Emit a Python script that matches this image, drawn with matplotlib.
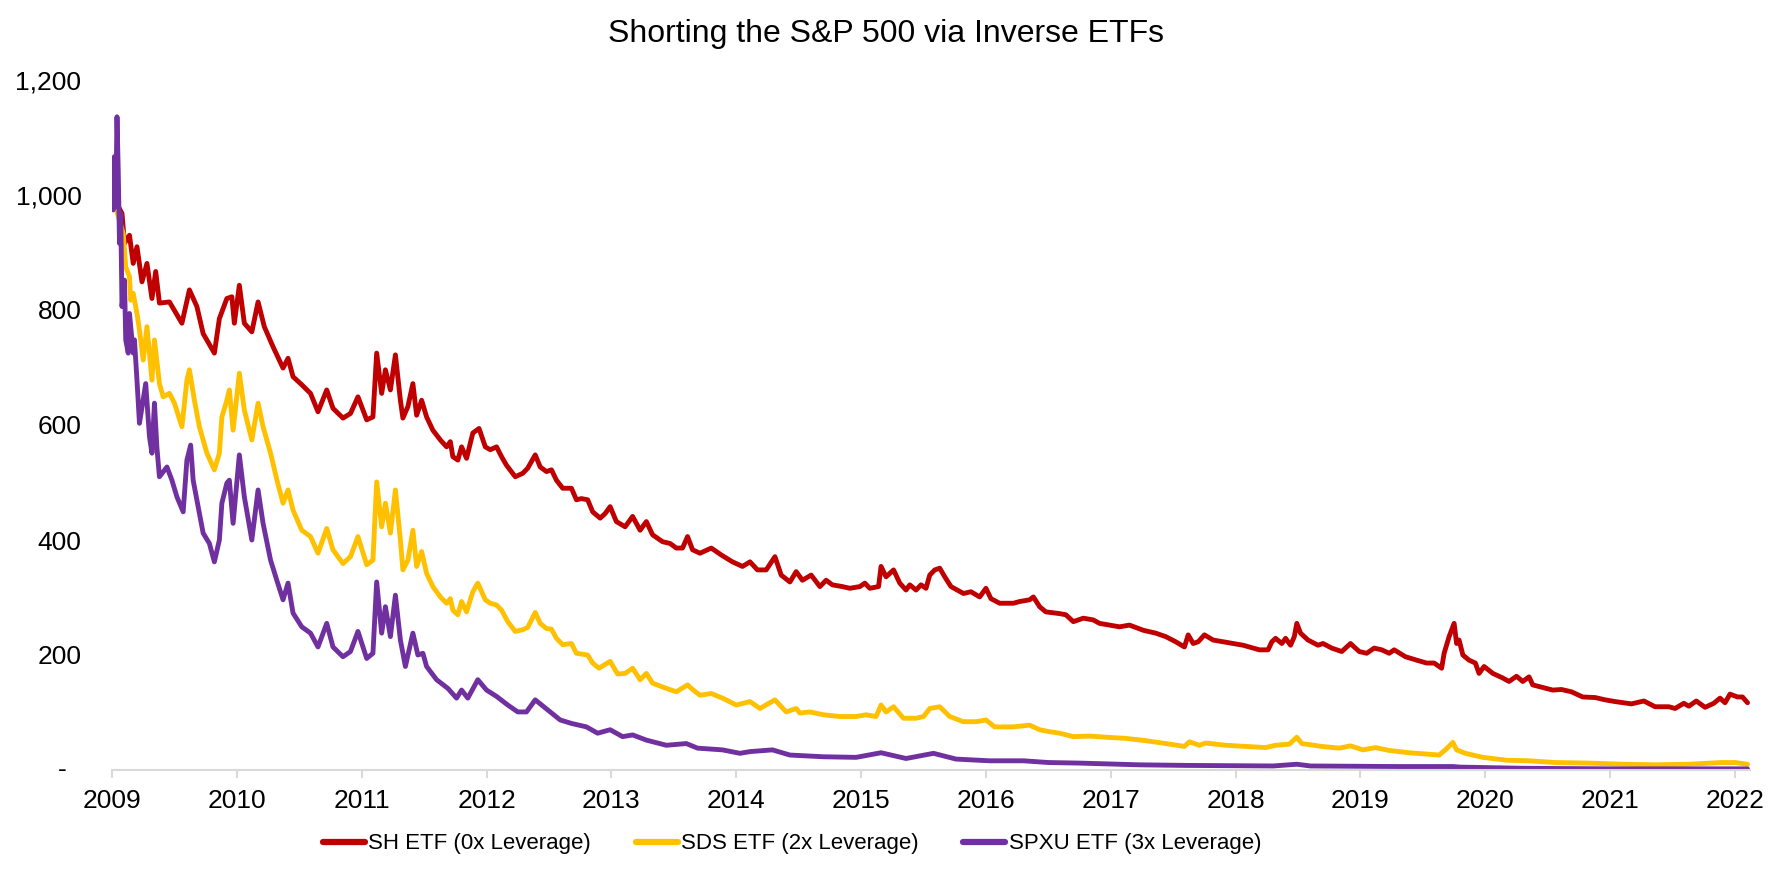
import matplotlib
matplotlib.use("Agg")
import matplotlib.pyplot as plt
from matplotlib.ticker import FuncFormatter, FixedLocator

plt.rcParams['font.family'] = ['Liberation Sans', 'DejaVu Sans']

# ---------------- data (dates as decimal years) ----------------
sh_dates = [2009.00, 2009.08, 2009.10, 2009.14, 2009.17, 2009.20, 2009.24, 2009.28, 2009.32, 2009.35,
            2009.38, 2009.46, 2009.56, 2009.62, 2009.68, 2009.73, 2009.82, 2009.86, 2009.92, 2009.96,
            2009.98, 2010.02, 2010.06, 2010.12, 2010.17, 2010.22, 2010.29, 2010.37, 2010.41, 2010.45,
            2010.52, 2010.59, 2010.65, 2010.72, 2010.77, 2010.85, 2010.91, 2010.97, 2011.04, 2011.09,
            2011.12, 2011.16, 2011.19, 2011.23, 2011.27, 2011.31, 2011.33, 2011.37, 2011.41, 2011.44,
            2011.48, 2011.52, 2011.57, 2011.63, 2011.68, 2011.71, 2011.73, 2011.77, 2011.80, 2011.84,
            2011.89, 2011.94, 2011.99, 2012.03, 2012.08, 2012.12, 2012.16, 2012.23, 2012.29, 2012.33,
            2012.39, 2012.43, 2012.48, 2012.52, 2012.56, 2012.61, 2012.68, 2012.72, 2012.76, 2012.81,
            2012.85, 2012.91, 2012.95, 2012.99, 2013.04, 2013.11, 2013.17, 2013.23, 2013.28, 2013.33,
            2013.41, 2013.47, 2013.52, 2013.57, 2013.61, 2013.65, 2013.71, 2013.80, 2013.88, 2013.97,
            2014.05, 2014.11, 2014.17, 2014.24, 2014.31, 2014.36, 2014.43, 2014.48, 2014.53, 2014.60,
            2014.67, 2014.72, 2014.77, 2014.85, 2014.91, 2014.99, 2015.03, 2015.07, 2015.14, 2015.16,
            2015.20, 2015.26, 2015.31, 2015.36, 2015.39, 2015.44, 2015.48, 2015.52, 2015.55, 2015.59,
            2015.63, 2015.67, 2015.72, 2015.82, 2015.88, 2015.95, 2016.00, 2016.04, 2016.11, 2016.22,
            2016.27, 2016.35, 2016.38, 2016.43, 2016.48, 2016.59, 2016.64, 2016.70, 2016.78, 2016.86,
            2016.91, 2016.99, 2017.07, 2017.15, 2017.26, 2017.36, 2017.44, 2017.52, 2017.59, 2017.62,
            2017.66, 2017.70, 2017.75, 2017.82, 2017.90, 2017.98, 2018.06, 2018.11, 2018.19, 2018.26,
            2018.29, 2018.32, 2018.37, 2018.40, 2018.44, 2018.47, 2018.49, 2018.52, 2018.58, 2018.66,
            2018.70, 2018.77, 2018.85, 2018.92, 2018.99, 2019.05, 2019.11, 2019.17, 2019.23, 2019.27,
            2019.36, 2019.45, 2019.53, 2019.59, 2019.65, 2019.67, 2019.71, 2019.75, 2019.77, 2019.79,
            2019.82, 2019.87, 2019.92, 2019.95, 2019.99, 2020.06, 2020.14, 2020.19, 2020.25, 2020.30,
            2020.35, 2020.38, 2020.45, 2020.54, 2020.61, 2020.69, 2020.78, 2020.88, 2020.96, 2021.04,
            2021.17, 2021.27, 2021.36, 2021.47, 2021.52, 2021.59, 2021.63, 2021.69, 2021.76, 2021.83,
            2021.88, 2021.92, 2021.96, 2022.02, 2022.06, 2022.10]
sh_values = [1000, 968, 916, 930, 881, 910, 849, 881, 820, 867,
             812, 814, 777, 835, 806, 759, 725, 785, 820, 823,
             777, 843, 777, 762, 814, 771, 736, 699, 716, 684,
             670, 655, 623, 661, 629, 612, 620, 649, 609, 614,
             725, 655, 696, 661, 722, 643, 612, 632, 672, 617,
             643, 614, 591, 574, 562, 571, 545, 539, 562, 542,
             586, 594, 562, 557, 562, 545, 530, 510, 516, 525,
             548, 527, 519, 522, 504, 490, 490, 470, 472, 470,
             449, 438, 446, 458, 432, 423, 441, 417, 432, 409,
             397, 394, 386, 386, 406, 383, 377, 386, 374, 362,
             354, 362, 348, 348, 371, 339, 327, 345, 330, 339,
             319, 330, 322, 319, 316, 319, 325, 316, 319, 354,
             336, 348, 325, 313, 322, 313, 322, 316, 339, 348,
             351, 336, 319, 307, 310, 301, 316, 298, 290, 290,
             293, 296, 301, 284, 275, 272, 270, 258, 264, 261,
             255, 252, 249, 252, 243, 238, 232, 223, 214, 235,
             220, 223, 235, 226, 223, 220, 217, 214, 209, 209,
             223, 229, 220, 229, 217, 232, 255, 238, 226, 217,
             220, 212, 206, 220, 206, 203, 212, 209, 203, 209,
             197, 191, 186, 186, 177, 203, 232, 255, 220, 226,
             200, 191, 186, 168, 180, 168, 160, 154, 163, 154,
             162, 148, 144, 139, 140, 136, 127, 126, 122, 119,
             115, 120, 110, 110, 107, 116, 111, 120, 109, 116,
             125, 117, 132, 127, 127, 117]

sds_dates = [2009.00, 2009.09, 2009.11, 2009.14, 2009.15, 2009.17, 2009.20, 2009.22, 2009.25, 2009.28,
             2009.32, 2009.34, 2009.38, 2009.41, 2009.46, 2009.50, 2009.56, 2009.60, 2009.62, 2009.66,
             2009.70, 2009.76, 2009.82, 2009.86, 2009.88, 2009.92, 2009.94, 2009.97, 2010.02, 2010.06,
             2010.12, 2010.17, 2010.21, 2010.27, 2010.32, 2010.37, 2010.41, 2010.45, 2010.52, 2010.59,
             2010.65, 2010.72, 2010.77, 2010.85, 2010.91, 2010.97, 2011.04, 2011.09, 2011.12, 2011.16,
             2011.19, 2011.23, 2011.27, 2011.31, 2011.33, 2011.37, 2011.41, 2011.44, 2011.48, 2011.52,
             2011.57, 2011.63, 2011.68, 2011.71, 2011.73, 2011.77, 2011.80, 2011.84, 2011.89, 2011.93,
             2011.99, 2012.03, 2012.08, 2012.12, 2012.17, 2012.23, 2012.29, 2012.33, 2012.39, 2012.43,
             2012.48, 2012.52, 2012.56, 2012.61, 2012.68, 2012.72, 2012.81, 2012.85, 2012.90, 2012.99,
             2013.05, 2013.11, 2013.17, 2013.23, 2013.28, 2013.33, 2013.44, 2013.52, 2013.61, 2013.65,
             2013.71, 2013.80, 2013.89, 2014.00, 2014.11, 2014.19, 2014.31, 2014.40, 2014.48, 2014.51,
             2014.59, 2014.70, 2014.83, 2014.96, 2015.04, 2015.12, 2015.16, 2015.20, 2015.26, 2015.34,
             2015.44, 2015.50, 2015.55, 2015.63, 2015.71, 2015.82, 2015.92, 2016.00, 2016.07, 2016.22,
             2016.35, 2016.43, 2016.50, 2016.59, 2016.70, 2016.83, 2016.96, 2017.12, 2017.28, 2017.44,
             2017.59, 2017.63, 2017.71, 2017.76, 2017.92, 2018.08, 2018.24, 2018.32, 2018.43, 2018.49,
             2018.53, 2018.69, 2018.83, 2018.92, 2019.02, 2019.12, 2019.23, 2019.39, 2019.63, 2019.68,
             2019.74, 2019.77, 2019.84, 2019.98, 2020.17, 2020.35, 2020.56, 2020.83, 2021.10, 2021.36,
             2021.63, 2021.89, 2022.00, 2022.10]
sds_values = [1000, 933, 875, 858, 817, 829, 794, 765, 713, 771,
              678, 748, 672, 649, 655, 638, 597, 678, 696, 643,
              597, 551, 522, 551, 614, 643, 661, 591, 690, 626,
              574, 638, 597, 551, 505, 464, 487, 452, 417, 406,
              377, 420, 383, 359, 371, 406, 357, 365, 501, 423,
              464, 412, 487, 400, 348, 365, 417, 354, 380, 342,
              319, 301, 290, 298, 278, 270, 293, 275, 310, 325,
              296, 290, 287, 278, 258, 241, 244, 248, 274, 255,
              246, 245, 229, 218, 220, 203, 200, 186, 177, 189,
              167, 168, 177, 157, 168, 151, 142, 136, 148, 140,
              130, 133, 125, 113, 119, 107, 122, 101, 107, 99,
              101, 96, 93, 93, 96, 93, 113, 101, 110, 90,
              90, 93, 107, 110, 93, 84, 84, 87, 75, 75,
              78, 70, 67, 64, 58, 59, 57, 55, 51, 46,
              41, 49, 43, 47, 43, 41, 39, 43, 45, 57,
              46, 41, 38, 42, 35, 39, 34, 30, 26, 35,
              48, 35, 29, 22, 17, 16, 13, 12, 10, 9,
              10, 13, 13, 10]

spxu_dates = [2009.00, 2009.01, 2009.02, 2009.03, 2009.04, 2009.05, 2009.06, 2009.07, 2009.08, 2009.10,
              2009.11, 2009.13, 2009.14, 2009.17, 2009.18, 2009.20, 2009.22, 2009.27, 2009.30, 2009.32,
              2009.34, 2009.36, 2009.38, 2009.44, 2009.48, 2009.52, 2009.57, 2009.60, 2009.63, 2009.65,
              2009.69, 2009.73, 2009.78, 2009.82, 2009.86, 2009.88, 2009.92, 2009.94, 2009.97, 2010.02,
              2010.06, 2010.12, 2010.17, 2010.21, 2010.27, 2010.32, 2010.37, 2010.41, 2010.45, 2010.52,
              2010.59, 2010.65, 2010.72, 2010.77, 2010.85, 2010.91, 2010.97, 2011.04, 2011.09, 2011.12,
              2011.16, 2011.19, 2011.23, 2011.27, 2011.31, 2011.35, 2011.41, 2011.45, 2011.49, 2011.52,
              2011.60, 2011.69, 2011.76, 2011.80, 2011.85, 2011.93, 2012.00, 2012.08, 2012.17, 2012.25,
              2012.32, 2012.39, 2012.51, 2012.59, 2012.68, 2012.80, 2012.89, 2012.99, 2013.09, 2013.17,
              2013.28, 2013.44, 2013.60, 2013.69, 2013.89, 2014.03, 2014.11, 2014.29, 2014.43, 2014.70,
              2014.96, 2015.16, 2015.36, 2015.58, 2015.76, 2016.03, 2016.30, 2016.50, 2016.75, 2017.23,
              2017.60, 2018.30, 2018.49, 2018.60, 2019.31, 2019.74, 2019.80, 2020.30, 2021.00, 2022.10]
spxu_values = [1000, 974, 1067, 980, 1136, 1043, 916, 968, 806, 852,
               748, 725, 794, 725, 748, 678, 603, 672, 580, 551,
               638, 560, 510, 527, 504, 475, 449, 539, 565, 504,
               458, 412, 394, 362, 400, 464, 499, 504, 429, 548,
               475, 400, 487, 429, 365, 330, 296, 325, 273, 249,
               238, 214, 255, 214, 197, 206, 241, 194, 203, 327,
               238, 284, 232, 304, 226, 180, 238, 200, 203, 180,
               157, 142, 125, 139, 125, 157, 139, 128, 113, 101,
               101, 122, 101, 87, 81, 75, 64, 70, 58, 61,
               52, 43, 46, 38, 35, 29, 32, 35, 26, 23,
               22, 30, 20, 29, 19, 16, 16, 13, 12, 9,
               8, 7, 10, 7, 6, 6, 5, 3, 2, 2]

series_labels = ['SH ETF (0x Leverage)', 'SDS ETF (2x Leverage)', 'SPXU ETF (3x Leverage)']
series_colors = ['#C00000', '#FFC000', '#7030A0']
year_ticks = list(range(2009, 2023))
value_ticks = [0, 200, 400, 600, 800, 1000, 1200]
title_text = 'Shorting the S&P 500 via Inverse ETFs'

# ---------------- figure ----------------
W, H = 1772, 886
fig = plt.figure(figsize=(W / 100, H / 100), dpi=100)
ax = fig.add_axes([112 / W, 1 - 770 / H, (1750 - 112) / W, (770 - 80) / H])

for d, v, lab, col in zip([sh_dates, sds_dates, spxu_dates],
                          [sh_values, sds_values, spxu_values],
                          series_labels, series_colors):
    ax.plot(d, v, color=col, lw=3.5, label=lab, solid_joinstyle='round', solid_capstyle='round')

ax.set_xlim(2009, 2022.12)
ax.set_ylim(0, 1200)
ax.xaxis.set_major_locator(FixedLocator(year_ticks))
ax.xaxis.set_major_formatter(FuncFormatter(lambda x, p: f'{int(round(x))}'))
ax.yaxis.set_major_locator(FixedLocator(value_ticks))
ax.yaxis.set_major_formatter(FuncFormatter(lambda y, p: '' if y == 0 else f'{int(y):,}'))

for s in ['top', 'right', 'left']:
    ax.spines[s].set_visible(False)
ax.spines['bottom'].set_color('#D9D9D9')
ax.spines['bottom'].set_linewidth(1.5)

ax.tick_params(axis='x', length=6, width=1.5, color='#D9D9D9', pad=8, labelsize=19, labelcolor='black')
ax.tick_params(axis='y', length=0, pad=22, labelsize=19, labelcolor='black')

# zero label shown as a dash (accounting style)
ax.annotate('-', xy=(0, 0), xycoords=('axes fraction', 'data'), xytext=(-50 * 0.72, 0),
            textcoords='offset points', ha='center', va='center', fontsize=19, color='black')

fig.text(0.5, 1 - 34 / H, title_text, ha='center', va='center', fontsize=23, color='black')

leg = fig.legend(loc='center', bbox_to_anchor=(0.447, 1 - 844 / H), ncol=3, frameon=False,
                 fontsize=16, handlelength=1.9, handletextpad=0.15, columnspacing=2.0)
for line in leg.get_lines():
    line.set_linewidth(4.5)

fig.savefig('out.png', dpi=100)
